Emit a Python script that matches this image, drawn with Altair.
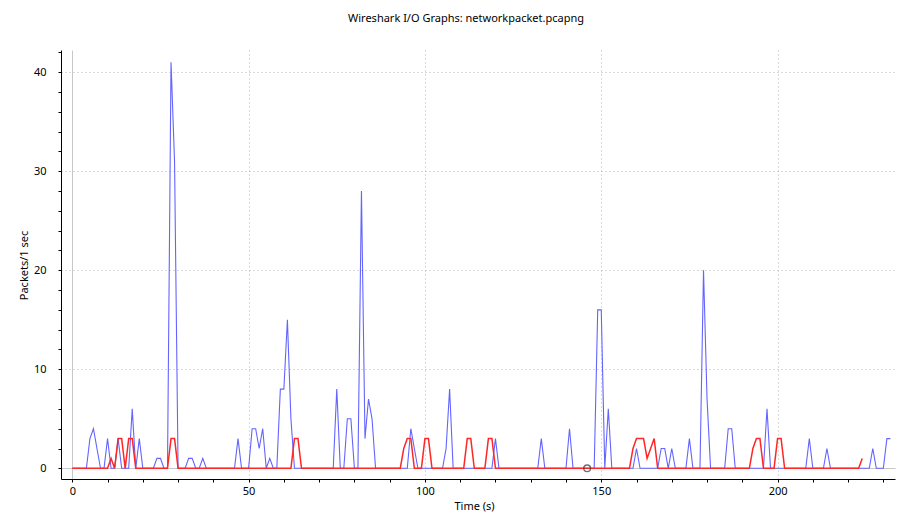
import altair as alt
import pandas as pd

# Packets per 1-second interval (t = 0 .. 232)
blue_packets = [
    0, 0, 0, 0, 0, 3, 4, 2, 0, 0,      # 0-9
    3, 0, 0, 3, 0, 0, 0, 6, 0, 3,      # 10-19
    0, 0, 0, 0, 1, 1, 0, 0, 41, 31,    # 20-29
    0, 0, 0, 1, 1, 0, 0, 1, 0, 0,      # 30-39
    0, 0, 0, 0, 0, 0, 0, 3, 0, 0,      # 40-49
    0, 4, 4, 2, 4, 0, 1, 0, 0, 8,      # 50-59
    8, 15, 5, 0, 0, 0, 0, 0, 0, 0,     # 60-69
    0, 0, 0, 0, 0, 8, 0, 0, 5, 5,      # 70-79
    0, 0, 28, 3, 7, 5, 0, 0, 0, 0,     # 80-89
    0, 0, 0, 0, 0, 0, 4, 2, 0, 0,      # 90-99
    0, 0, 0, 0, 0, 0, 2, 8, 0, 0,      # 100-109
    0, 0, 0, 0, 0, 0, 0, 0, 0, 0,      # 110-119
    3, 0, 0, 0, 0, 0, 0, 0, 0, 0,      # 120-129
    0, 0, 0, 3, 0, 0, 0, 0, 0, 0,      # 130-139
    0, 4, 0, 0, 0, 0, 0, 0, 0, 16,     # 140-149
    16, 0, 6, 0, 0, 0, 0, 0, 0, 0,     # 150-159
    2, 0, 0, 0, 0, 0, 0, 2, 2, 0,      # 160-169
    2, 0, 0, 0, 0, 3, 0, 0, 0, 20,     # 170-179
    7, 0, 0, 0, 0, 0, 4, 4, 0, 0,      # 180-189
    0, 0, 0, 0, 0, 0, 0, 6, 0, 0,      # 190-199
    0, 0, 0, 0, 0, 0, 0, 0, 0, 3,      # 200-209
    0, 0, 0, 0, 2, 0, 0, 0, 0, 0,      # 210-219
    0, 0, 0, 0, 0, 0, 0, 2, 0, 0,      # 220-229
    0, 3, 3,                           # 230-232
]

# t = 0 .. 224
red_packets = [
    0, 0, 0, 0, 0, 0, 0, 0, 0, 0,      # 0-9
    0, 1, 0, 3, 3, 0, 3, 3, 0, 0,      # 10-19
    0, 0, 0, 0, 0, 0, 0, 0, 3, 3,      # 20-29
    0, 0, 0, 0, 0, 0, 0, 0, 0, 0,      # 30-39
    0, 0, 0, 0, 0, 0, 0, 0, 0, 0,      # 40-49
    0, 0, 0, 0, 0, 0, 0, 0, 0, 0,      # 50-59
    0, 0, 0, 3, 3, 0, 0, 0, 0, 0,      # 60-69
    0, 0, 0, 0, 0, 0, 0, 0, 0, 0,      # 70-79
    0, 0, 0, 0, 0, 0, 0, 0, 0, 0,      # 80-89
    0, 0, 0, 0, 2, 3, 3, 0, 0, 0,      # 90-99
    3, 3, 0, 0, 0, 0, 0, 0, 0, 0,      # 100-109
    0, 0, 3, 3, 0, 0, 0, 0, 3, 3,      # 110-119
    0, 0, 0, 0, 0, 0, 0, 0, 0, 0,      # 120-129
    0, 0, 0, 0, 0, 0, 0, 0, 0, 0,      # 130-139
    0, 0, 0, 0, 0, 0, 0, 0, 0, 0,      # 140-149
    0, 0, 0, 0, 0, 0, 0, 0, 0, 2,      # 150-159
    3, 3, 3, 1, 2, 3, 0, 0, 0, 0,      # 160-169
    0, 0, 0, 0, 0, 0, 0, 0, 0, 0,      # 170-179
    0, 0, 0, 0, 0, 0, 0, 0, 0, 0,      # 180-189
    0, 0, 0, 2, 3, 3, 0, 0, 0, 0,      # 190-199
    3, 3, 0, 0, 0, 0, 0, 0, 0, 0,      # 200-209
    0, 0, 0, 0, 0, 0, 0, 0, 0, 0,      # 210-219
    0, 0, 0, 0, 1,                     # 220-224
]

cursor_time = [146]
cursor_value = [0]

x_tick_values = list(range(0, 240, 10))
y_tick_values = list(range(0, 43, 2))

blue_df = pd.DataFrame({"t": list(range(len(blue_packets))), "v": blue_packets})
red_df = pd.DataFrame({"t": list(range(len(red_packets))), "v": red_packets})
cursor_df = pd.DataFrame({"t": cursor_time, "v": cursor_value})

x_scale = alt.Scale(domain=[-3.2, 233.3], nice=False, zero=False)
y_scale = alt.Scale(domain=[-1.08, 42.25], nice=False, zero=False)

FONT = "Noto Sans"

x_axis = alt.Axis(
    values=x_tick_values,
    labelExpr="datum.value % 50 === 0 ? datum.label : ''",
    labelOverlap=False,
    labelBound=False,
    labelFlush=False,
    title="Time (s)",
    grid=True,
    gridOpacity={"condition": {"test": "datum.value % 50 === 0", "value": 1}, "value": 0},
    gridDash={"condition": {"test": "datum.value === 0", "value": []}, "value": [1, 3]},
    gridColor={"condition": {"test": "datum.value === 0", "value": "#c8c8c8"}, "value": "#b4b4b4"},
    titleX=413,
    titleY=27,
    titleBaseline="middle",
    labelPadding=3,
)

y_axis = alt.Axis(
    values=y_tick_values,
    labelExpr="datum.value % 10 === 0 ? datum.label : ''",
    labelOverlap=False,
    labelBound=False,
    labelFlush=False,
    title="Packets/1 sec",
    grid=True,
    gridOpacity={"condition": {"test": "datum.value % 10 === 0", "value": 1}, "value": 0},
    gridDash={"condition": {"test": "datum.value === 0", "value": []}, "value": [1, 3]},
    gridColor={"condition": {"test": "datum.value === 0", "value": "#c8c8c8"}, "value": "#b4b4b4"},
    titleX=-37,
    titleY=215,
    titleAngle=270,
    titleBaseline="middle",
    titleAlign="center",
    labelPadding=12,
)

blue_line = alt.Chart(blue_df).mark_line(color="#6464ff", strokeWidth=1.1).encode(
    x=alt.X("t:Q", scale=x_scale, axis=x_axis),
    y=alt.Y("v:Q", scale=y_scale, axis=y_axis),
)

red_line = alt.Chart(red_df).mark_line(color="#ff2626", strokeWidth=1.5).encode(
    x=alt.X("t:Q", scale=x_scale, axis=x_axis),
    y=alt.Y("v:Q", scale=y_scale, axis=y_axis),
)

cursor = alt.Chart(cursor_df).mark_point(
    shape="circle", filled=False, color="#333333", size=45, strokeWidth=1.4
).encode(
    x=alt.X("t:Q", scale=x_scale, axis=x_axis),
    y=alt.Y("v:Q", scale=y_scale, axis=y_axis),
)

chart = (
    alt.layer(blue_line, red_line, cursor)
    .properties(
        width=834,
        height=429,
        autosize=alt.AutoSizeParams(type="none"),
        padding={"left": 53, "top": 42, "right": 9, "bottom": 40},
        title=alt.TitleParams(
            "Wireshark I/O Graphs: networkpacket.pcapng",
            font=FONT,
            fontSize=11,
            fontWeight="normal",
            color="#000000",
            anchor="middle",
            dx=-12,
            offset=22,
        ),
    )
    .configure_view(stroke=None)
    .configure_axis(
        domainColor="#000000",
        domainWidth=1,
        tickColor="#000000",
        tickSize=3,
        labelFont=FONT,
        labelFontSize=11,
        labelColor="#000000",
        titleFont=FONT,
        titleFontSize=11,
        titleFontWeight="normal",
        titleColor="#000000",
    )
)

chart.save("out.html", embed_options={"renderer": "svg", "actions": False})
